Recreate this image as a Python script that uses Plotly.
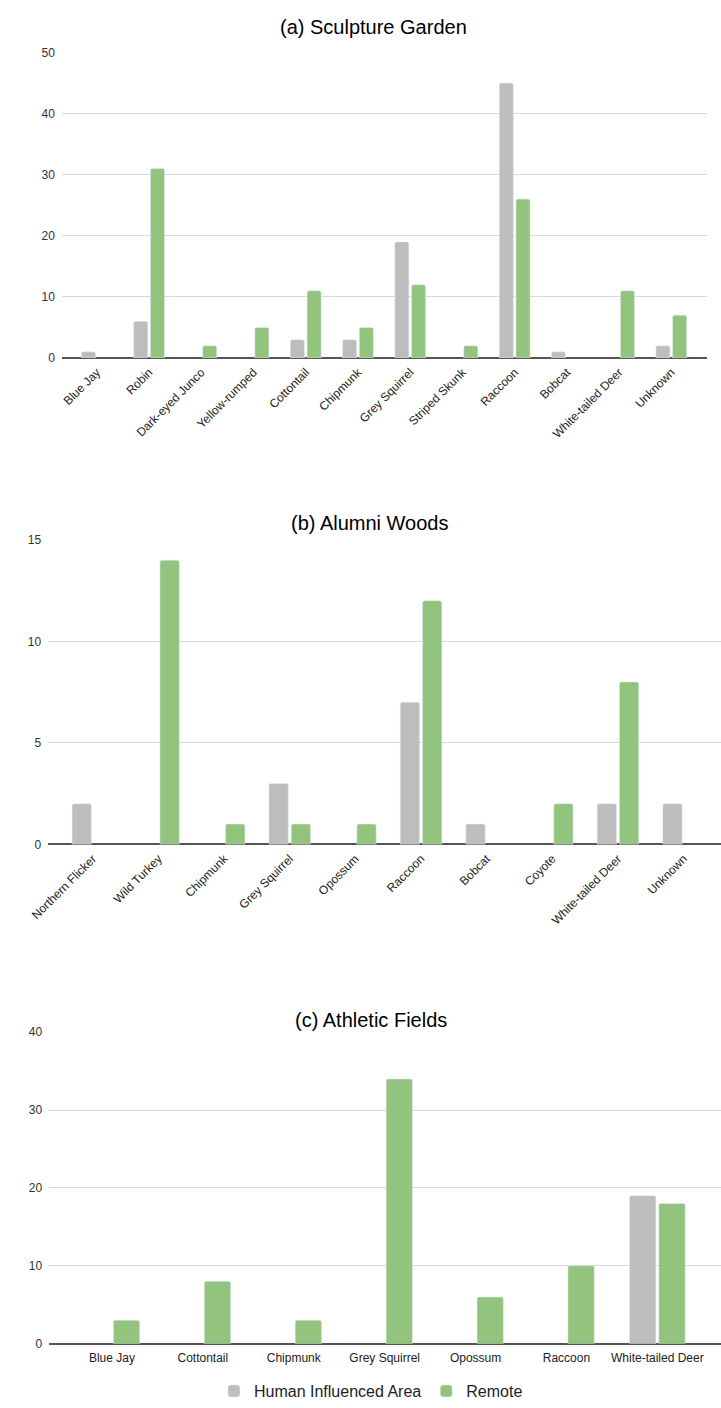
import plotly.graph_objects as go

# ---- data ----
cats_a = ["Blue Jay", "Robin", "Dark-eyed Junco", "Yellow-rumped", "Cottontail", "Chipmunk",
          "Grey Squirrel", "Striped Skunk", "Raccoon", "Bobcat", "White-tailed Deer", "Unknown"]
human_a = [1, 6, 0, 0, 3, 3, 19, 0, 45, 1, 0, 2]
remote_a = [0, 31, 2, 5, 11, 5, 12, 2, 26, 0, 11, 7]

cats_b = ["Northern Flicker", "Wild Turkey", "Chipmunk", "Grey Squirrel", "Opossum", "Raccoon",
          "Bobcat", "Coyote", "White-tailed Deer", "Unknown"]
human_b = [2, 0, 0, 3, 0, 7, 1, 0, 2, 2]
remote_b = [0, 14, 1, 1, 1, 12, 0, 2, 8, 0]

cats_c = ["Blue Jay", "Cottontail", "Chipmunk", "Grey Squirrel", "Opossum", "Raccoon", "White-tailed Deer"]
human_c = [0, 0, 0, 0, 0, 0, 19]
remote_c = [3, 8, 3, 34, 6, 10, 18]

series_names = ["Human Influenced Area", "Remote"]
titles = ["(a) Sculpture Garden", "(b) Alumni Woods", "(c) Athletic Fields"]

# ---- style ----
W, H = 721, 1408
GRAY = "#bdbdbd"
GREEN = "#93c47d"
FONT = "Liberation Sans, Arial, sans-serif"


def nz(vals):
    # zero counts draw no bar
    return [v if v else None for v in vals]


fig = go.Figure()

panels = [
    dict(cats=cats_a, h=human_a, r=remote_a, w=0.27, gap=0.025, xa="x", ya="y",
         xdom=[45, 707], ydom=[46, 355], rng=[-0.67, 11.69], yr=[0, 50], dt=10, angle=-45,
         title_y=20, title_x=365, xstand=4),
    dict(cats=cats_b, h=human_b, r=remote_b, w=0.295, gap=0.022, xa="x2", ya="y2",
         xdom=[31, 721], ydom=[539, 847], rng=[-0.68, 9.57], yr=[0, 15], dt=5, angle=-45,
         title_y=522, title_x=360, xstand=4),
    dict(cats=cats_c, h=human_c, r=remote_c, w=0.29, gap=0.016, xa="x3", ya="y3",
         xdom=[32, 721], ydom=[1037, 1352], rng=[-0.69, 6.70], yr=[0, 40], dt=10, angle=0,
         title_y=1025, title_x=362, xstand=5),
]

for i, p in enumerate(panels):
    fig.add_trace(go.Bar(x=p["cats"], y=nz(p["h"]), name=series_names[0], marker_color=GRAY,
                         width=p["w"], offset=-p["w"] - p["gap"], xaxis=p["xa"], yaxis=p["ya"],
                         showlegend=(i == 2), legendgroup="h"))
    fig.add_trace(go.Bar(x=p["cats"], y=nz(p["r"]), name=series_names[1], marker_color=GREEN,
                         width=p["w"], offset=p["gap"], xaxis=p["xa"], yaxis=p["ya"],
                         showlegend=(i == 2), legendgroup="r"))
    n = "" if i == 0 else str(i + 1)
    fig.layout["xaxis" + n] = dict(
        domain=[p["xdom"][0] / W, p["xdom"][1] / W], range=p["rng"], anchor="y" + n,
        tickangle=p["angle"], tickfont=dict(size=12, color="#222", family=FONT),
        ticklabelstandoff=p["xstand"],
        showgrid=False, showline=False, ticks="", zeroline=False, type="category",
    )
    fig.layout["yaxis" + n] = dict(
        domain=[1 - p["ydom"][1] / H, 1 - p["ydom"][0] / H], range=p["yr"], anchor="x" + n,
        dtick=p["dt"], tickfont=dict(size=12, color="#333", family=FONT),
        ticklabelstandoff=6,
        showgrid=True, gridcolor="#d9d9d9", gridwidth=1,
        zeroline=True, zerolinecolor="#555", zerolinewidth=1.5, showline=False, ticks="",
    )
    fig.add_annotation(text=titles[i], x=p["title_x"] / W, y=1 - p["title_y"] / H,
                       xref="paper", yref="paper", showarrow=False,
                       font=dict(size=20, color="#000", family=FONT), xanchor="center", yanchor="middle")

fig.update_layout(
    width=W, height=H, margin=dict(l=0, r=0, t=0, b=0),
    paper_bgcolor="white", plot_bgcolor="white",
    barmode="overlay", barcornerradius=2,
    font=dict(family=FONT),
    legend=dict(orientation="h", x=362 / W, xanchor="center", y=1 - 1400 / H, yanchor="middle",
                font=dict(size=16, color="#222", family=FONT), itemwidth=30),
)

fig.write_html("out.html")
